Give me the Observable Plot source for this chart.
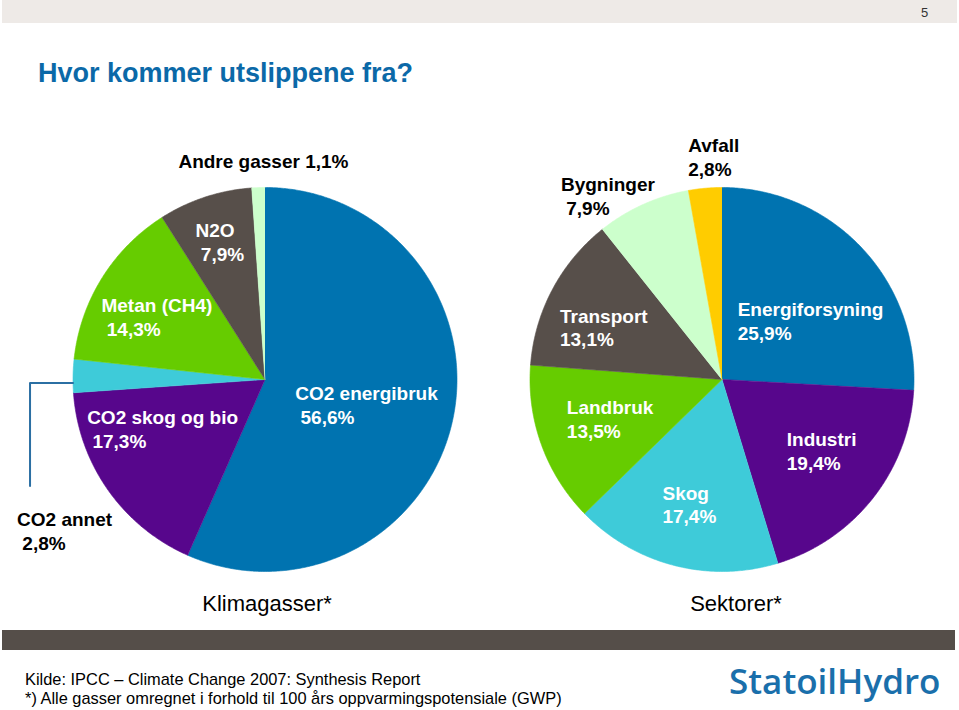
<!DOCTYPE html>
<html>
<head>
<meta charset="utf-8">
<script src="https://cdn.jsdelivr.net/npm/d3@7"></script>
<script src="https://cdn.jsdelivr.net/npm/@observablehq/plot@0.6"></script>
<style>
  body { margin: 0; background: #fff; font-family: Arial, "Liberation Sans", sans-serif; }
  #page { position: relative; width: 959px; height: 710px; overflow: hidden; }
  #topband { position: absolute; left: 2px; top: 0; width: 955px; height: 23px; background: #eeeae7; }
  #pagenum { position: absolute; left: 921px; top: 6px; font-size: 13px; line-height: 13px; color: #333; }
  #title { position: absolute; left: 38px; top: 60px; font-size: 27px; line-height: 27px; font-weight: bold; color: #0b69a8; white-space: nowrap; }
  #chart { position: absolute; left: 0; top: 100px; }
  #bottomband { position: absolute; left: 2px; top: 630px; width: 953px; height: 20px; background: #554e49; }
  #source { position: absolute; left: 25px; top: 670px; font-size: 16.4px; line-height: 19px; color: #000; white-space: nowrap; }
  #logo { position: absolute; left: 729px; top: 663px; font-family: "Open Sans", sans-serif; font-weight: 600; font-size: 35px; line-height: 35px; letter-spacing: 0px; color: #1a6fab; white-space: nowrap; }
</style>
</head>
<body>
<div id="page">
  <div id="topband"></div>
  <div id="pagenum">5</div>
  <div id="title">Hvor kommer utslippene fra?</div>
  <div id="chart"></div>
  <div id="bottomband"></div>
  <div id="source">Kilde: IPCC – Climate Change 2007: Synthesis Report<br>*) Alle gasser omregnet i forhold til 100 års oppvarmingspotensiale (GWP)</div>
  <div id="logo">StatoilHydro</div>
</div>
<script>
// ---------- data ----------
const chartNames = ["Klimagasser*", "Sektorer*"];

const gasNames = ["CO2 energibruk", "CO2 skog og bio", "CO2 annet", "Metan (CH4)", "N2O", "Andre gasser"];
const gasValues = [56.6, 17.3, 2.8, 14.3, 7.9, 1.1];
const gasBreaks = ["\n\u00a0", "\n\u00a0", "\n\u00a0", "\n\u00a0", "\n\u00a0", " "];

const sectorNames = ["Energiforsyning", "Industri", "Skog", "Landbruk", "Transport", "Bygninger", "Avfall"];
const sectorValues = [25.9, 19.4, 17.4, 13.5, 13.1, 7.9, 2.8];
const sectorBreaks = ["\n", "\n", "\n", "\n", "\n", "\n\u00a0", "\n"];

// ---------- style / layout ----------
const palette = ["#0073b0", "#57068c", "#3ecbd9", "#66cc00", "#574f4a", "#ccffcc", "#ffcc00"];
const W = 959, H = 520;
const R = 192;                       // pixels per unit radius
const ML = 35.5, MR = 9.5, MT = 0, MB = 40;
const facetW = (W - ML - MR) / 2;
const xHalf = facetW / 2 / R;
const CY = 279;                      // pie centre within svg
const yMax = (CY - MT) / R, yMin = -((H - MB) - CY) / R;
const LABEL_SIZE = 19;
const INSIDE_K = 0.62, OUTSIDE_K = 1.14;
// hand placement nudges for labels, in pixels [right, down]
const labelNudge = {
  "CO2 energibruk": [-15, 0], "CO2 skog og bio": [-5, -20], "CO2 annet": [0, 7],
  "Metan (CH4)": [-7, 0], "N2O": [-8, -25], "Andre gasser": [6, 0],
  "Energiforsyning": [2, 23], "Industri": [6, -3], "Skog": [-3, 9], "Landbruk": [0, -2],
  "Transport": [-13, 3], "Bygninger": [-24, 15], "Avfall": [11, -5]
};
const titleNudge = {"Klimagasser*": 2, "Sektorer*": 14};

const fmt = v => d3.format(".1f")(v).replace(".", ",") + "%";

function buildPie(chart, names, values, breaks) {
  const arcs = d3.pie().sort(null).value(d => d)(values);
  return arcs.map((a, i) => ({
    chart, name: names[i], value: values[i], brk: breaks[i],
    a0: a.startAngle, a1: a.endAngle, color: palette[i]
  }));
}
const slices = [
  ...buildPie(chartNames[0], gasNames, gasValues, gasBreaks),
  ...buildPie(chartNames[1], sectorNames, sectorValues, sectorBreaks)
];

const outline = slices.flatMap((s, k) => {
  const n = Math.max(2, Math.ceil((s.a1 - s.a0) / (Math.PI / 360)));
  const pts = [{chart: s.chart, key: k, color: s.color, x: 0, y: 0}];
  for (let j = 0; j <= n; j++) {
    const t = s.a0 + (s.a1 - s.a0) * j / n;
    pts.push({chart: s.chart, key: k, color: s.color, x: Math.sin(t), y: Math.cos(t)});
  }
  return pts;
});

const ctx = document.createElement("canvas").getContext("2d");
ctx.font = `bold ${LABEL_SIZE}px Arial, "Liberation Sans", sans-serif`;

const labels = [];
const leaders = [];
slices.forEach((s, k) => {
  const mid = (s.a0 + s.a1) / 2;
  const deg = mid * 180 / Math.PI;
  const text = s.name + s.brk + fmt(s.value);
  const w = d3.max(text.split("\n"), l => ctx.measureText(l).width) / R;
  const outside = s.value < 5 || d3.hsl(s.color).l > 0.75;
  const callout = outside && deg > 225 && deg < 315;
  const [nx, ny] = (labelNudge[s.name] || [0, 0]).map(v => v / R);
  if (callout) {
    const sx = Math.sin(mid), sy = Math.cos(mid) - ny;
    const cx = sx - 43 / R, ey = sy - 103 / R;
    leaders.push({chart: s.chart, key: k, x: sx, y: sy}, {chart: s.chart, key: k, x: cx, y: sy}, {chart: s.chart, key: k, x: cx, y: ey});
    labels.push({chart: s.chart, text, x: cx - 13 / R + nx, y: ey - 44 / R, fill: "black"});
  } else {
    const kk = outside ? OUTSIDE_K : INSIDE_K;
    labels.push({
      chart: s.chart, text,
      x: kk * Math.sin(mid) - w / 2 + nx,
      y: kk * Math.cos(mid) - ny,
      fill: outside ? "black" : "white"
    });
  }
});

const titles = chartNames.map(c => ({chart: c, x: (titleNudge[c] || 0) / R}));

const plot = Plot.plot({
  width: W, height: H,
  marginLeft: ML, marginRight: MR, marginTop: MT, marginBottom: MB,
  facet: {marginTop: 0, marginBottom: 0, marginLeft: 0, marginRight: 0},
  fx: {domain: chartNames, padding: 0, axis: null},
  x: {domain: [-xHalf, xHalf], axis: null},
  y: {domain: [yMin, yMax], axis: null},
  color: {type: "identity"},
  style: {fontFamily: "Arial, 'Liberation Sans', sans-serif", background: "transparent", overflow: "visible"},
  marks: [
    Plot.line(outline, {x: "x", y: "y", z: "key", fx: "chart", fill: "color", stroke: "color", strokeWidth: 0.6, curve: "linear"}),
    Plot.line(leaders, {x: "x", y: "y", z: "key", fx: "chart", stroke: "#2b6fa3", strokeWidth: 2, curve: "linear"}),
    Plot.text(labels, {x: "x", y: "y", fx: "chart", text: "text", fill: "fill", textAnchor: "start", lineAnchor: "middle",
      fontSize: LABEL_SIZE, fontWeight: "bold", lineHeight: 1.26}),
    Plot.text(titles, {x: "x", fx: "chart", text: "chart", frameAnchor: "bottom", dy: 23, lineAnchor: "middle",
      fontSize: 22, fill: "black"})
  ]
});
document.getElementById("chart").appendChild(plot);
</script>
</body>
</html>
